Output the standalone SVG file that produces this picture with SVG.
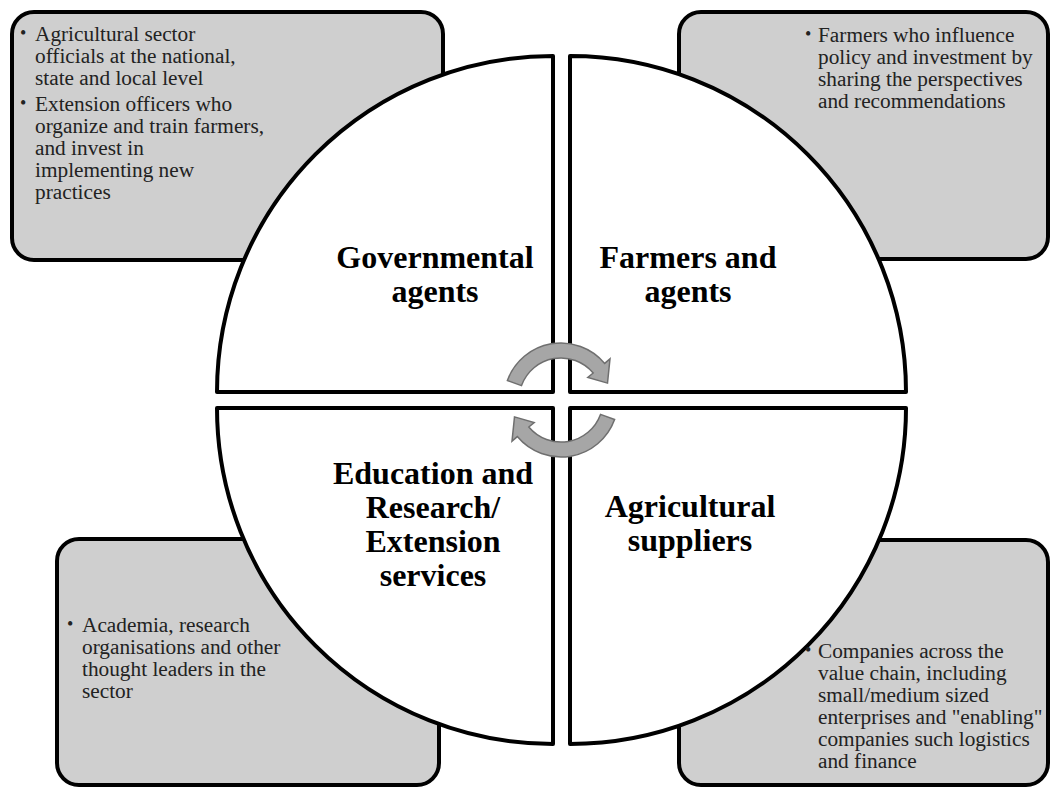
<svg xmlns="http://www.w3.org/2000/svg" width="1051" height="787" viewBox="0 0 1051 787">
<style>
.box{fill:#cfcfcf;stroke:#000;stroke-width:4}
.wedge{fill:#fff;stroke:#000;stroke-width:4;stroke-linejoin:round}
.lbl{font-family:"Liberation Serif","Times New Roman",serif;font-weight:bold;font-size:32px;fill:#000;text-anchor:middle}
.txt{font-family:"Liberation Serif","Times New Roman",serif;font-size:21.3px;fill:#222}
.bul{font-family:"Liberation Serif","Times New Roman",serif;font-size:18px;fill:#222}
.arrow{fill:#a6a6a6;stroke:#6f6f6f;stroke-width:1.5;stroke-linejoin:miter}
</style>
<rect width="1051" height="787" fill="#fff"/>
<defs>
<path id="arr" d="M507.4,380.5 A57,57 0 0 1 604.7,363.4 L610,358.9 L607.5,383.1 L587.8,377.5 L593.2,373 A42,42 0 0 0 521.5,385.6 Z"/>
</defs>

<g id="node-governmental">
<rect class="box" x="12" y="12" width="431" height="248" rx="22"/>
<path class="wedge" d="M553,392 L553,56 A336,336 0 0 0 217,392 Z"/>
<text class="lbl" x="435" y="268">Governmental</text>
<text class="lbl" x="435" y="302">agents</text>
<text class="bul" x="20" y="39">•</text>
<text class="txt"><tspan x="35" y="41">Agricultural sector</tspan><tspan x="35" y="63">officials at the national,</tspan><tspan x="35" y="85">state and local level</tspan></text>
<text class="bul" x="20" y="109">•</text>
<text class="txt"><tspan x="35" y="111">Extension officers who</tspan><tspan x="35" y="133">organize and train farmers,</tspan><tspan x="35" y="155">and invest in</tspan><tspan x="35" y="177">implementing new</tspan><tspan x="35" y="199">practices</tspan></text>
</g>

<g id="node-farmers">
<rect class="box" x="679" y="12" width="369" height="247" rx="22"/>
<path class="wedge" d="M570,392 L570,56 A336,336 0 0 1 906,392 Z"/>
<text class="lbl" x="688" y="268">Farmers and</text>
<text class="lbl" x="688" y="302">agents</text>
<text class="bul" x="805" y="40">•</text>
<text class="txt"><tspan x="818" y="42">Farmers who influence</tspan><tspan x="818" y="64">policy and investment by</tspan><tspan x="818" y="86">sharing the perspectives</tspan><tspan x="818" y="108">and recommendations</tspan></text>
</g>

<g id="node-education">
<rect class="box" x="57" y="539" width="382" height="246" rx="22"/>
<path class="wedge" d="M553,408 L217,408 A336,336 0 0 0 553,744 Z"/>
<text class="lbl" x="433" y="484">Education and</text>
<text class="lbl" x="433" y="518">Research/</text>
<text class="lbl" x="433" y="552">Extension</text>
<text class="lbl" x="433" y="586">services</text>
<text class="bul" x="67" y="630">•</text>
<text class="txt"><tspan x="82" y="632">Academia, research</tspan><tspan x="82" y="654">organisations and other</tspan><tspan x="82" y="676">thought leaders in the</tspan><tspan x="82" y="698">sector</tspan></text>
</g>

<g id="node-suppliers">
<rect class="box" x="679" y="540" width="369" height="245" rx="22"/>
<path class="wedge" d="M570,408 L906,408 A336,336 0 0 1 570,744 Z"/>
<text class="lbl" x="690" y="517">Agricultural</text>
<text class="lbl" x="690" y="551">suppliers</text>
<text class="bul" x="805" y="656">•</text>
<text class="txt"><tspan x="818" y="658">Companies across the</tspan><tspan x="818" y="680">value chain, including</tspan><tspan x="818" y="702">small/medium sized</tspan><tspan x="818" y="724">enterprises and "enabling"</tspan><tspan x="818" y="746">companies such logistics</tspan><tspan x="818" y="768">and finance</tspan></text>
</g>

<g id="connectors">
<use href="#arr" class="arrow"/>
<use href="#arr" class="arrow" transform="rotate(180 561 400)"/>
</g>
</svg>
